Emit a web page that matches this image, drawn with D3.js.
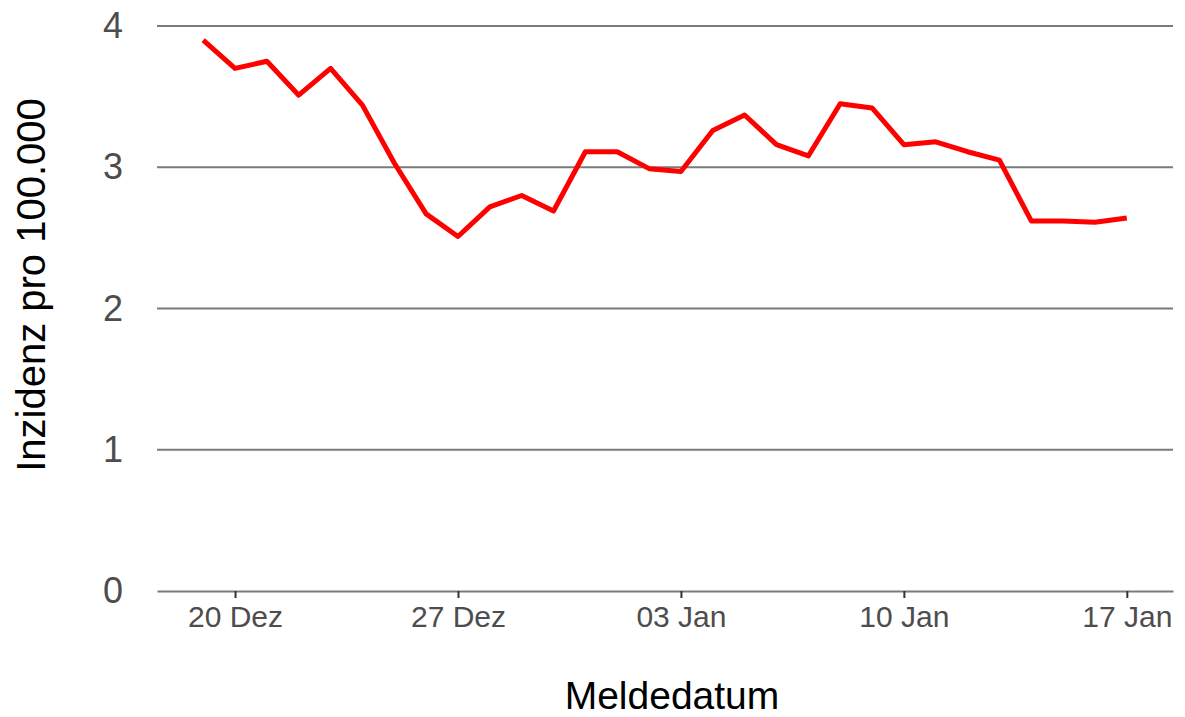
<!DOCTYPE html>
<html>
<head>
<meta charset="utf-8">
<script src="https://cdn.jsdelivr.net/npm/d3@7"></script>
<style>
  html, body { margin: 0; padding: 0; background: #ffffff; }
  svg { display: block; }
</style>
</head>
<body>
<svg id="chart" width="1185" height="717"></svg>
<script>
// ---- data ----
const dates = [
  "2020-12-19","2020-12-20","2020-12-21","2020-12-22","2020-12-23","2020-12-24",
  "2020-12-25","2020-12-26","2020-12-27","2020-12-28","2020-12-29","2020-12-30",
  "2020-12-31","2021-01-01","2021-01-02","2021-01-03","2021-01-04","2021-01-05",
  "2021-01-06","2021-01-07","2021-01-08","2021-01-09","2021-01-10","2021-01-11",
  "2021-01-12","2021-01-13","2021-01-14","2021-01-15","2021-01-16","2021-01-17"
];
const incidence = [
  3.90, 3.70, 3.75, 3.51, 3.70, 3.44,
  3.03, 2.67, 2.51, 2.72, 2.80, 2.69,
  3.11, 3.11, 2.99, 2.97, 3.26, 3.37,
  3.16, 3.08, 3.45, 3.42, 3.16, 3.18,
  3.11, 3.05, 2.62, 2.62, 2.61, 2.64
];
const xTickDates = ["2020-12-20","2020-12-27","2021-01-03","2021-01-10","2021-01-17"];
const yTicks = [0, 1, 2, 3, 4];
const xTitle = "Meldedatum";
const yTitle = "Inzidenz pro 100.000";

// ---- setup ----
const parse = d3.timeParse("%Y-%m-%d");
const data = dates.map((d, i) => ({ date: parse(d), value: incidence[i] }));

const deLocale = d3.timeFormatLocale({
  dateTime: "%A, der %e. %B %Y, %X",
  date: "%d.%m.%Y",
  time: "%H:%M:%S",
  periods: ["AM", "PM"],
  days: ["Sonntag","Montag","Dienstag","Mittwoch","Donnerstag","Freitag","Samstag"],
  shortDays: ["So","Mo","Di","Mi","Do","Fr","Sa"],
  months: ["Januar","Februar","März","April","Mai","Juni","Juli","August","September","Oktober","November","Dezember"],
  shortMonths: ["Jan","Feb","Mär","Apr","Mai","Jun","Jul","Aug","Sep","Okt","Nov","Dez"]
});
const fmt = deLocale.format("%d %b");

const svg = d3.select("#chart");
const panelLeft = 157, panelRight = 1173, panelTop = 26, panelBottom = 591;

const [dMin, dMax] = d3.extent(data, d => d.date);
const span = dMax - dMin;
const x = d3.scaleTime()
  .domain([new Date(+dMin - span * 0.05), new Date(+dMax + span * 0.05)])
  .range([panelLeft, panelRight]);
const y = d3.scaleLinear().domain([0, 4]).range([panelBottom, panelTop]);

const gridColor = "#7b7b7b";
const tickTextColor = "#4d4d4d";
const fontFamily = "'Liberation Sans', Arial, sans-serif";

// grid lines
svg.append("g")
  .selectAll("line")
  .data(yTicks.filter(t => t > 0))
  .join("line")
  .attr("x1", panelLeft).attr("x2", panelRight)
  .attr("y1", d => y(d)).attr("y2", d => y(d))
  .attr("stroke", gridColor).attr("stroke-width", 2);

// x axis
const xAxis = svg.append("g")
  .attr("transform", `translate(0,${panelBottom})`)
  .call(d3.axisBottom(x)
    .tickValues(xTickDates.map(parse))
    .tickFormat(fmt)
    .tickSize(7)
    .tickSizeOuter(0)
    .tickPadding(8));
xAxis.select(".domain").attr("stroke", gridColor).attr("stroke-width", 2);
xAxis.selectAll(".tick line").attr("stroke", "#333333").attr("stroke-width", 2);
xAxis.selectAll(".tick text")
  .attr("fill", tickTextColor)
  .style("font-family", fontFamily)
  .style("font-size", "30px");

// y axis labels
const yAxis = svg.append("g")
  .attr("transform", `translate(${panelLeft},0)`)
  .call(d3.axisLeft(y).tickValues(yTicks).tickFormat(d3.format("d")).tickSize(0).tickPadding(34));
yAxis.select(".domain").remove();
yAxis.selectAll(".tick text")
  .attr("fill", tickTextColor)
  .style("font-family", fontFamily)
  .style("font-size", "36px");

// line
const line = d3.line().x(d => x(d.date)).y(d => y(d.value));
svg.append("path")
  .datum(data)
  .attr("d", line)
  .attr("fill", "none")
  .attr("stroke", "#ff0000")
  .attr("stroke-width", 5)
  .attr("stroke-linejoin", "round");

// titles
svg.append("text")
  .attr("x", 672)
  .attr("y", 709)
  .attr("text-anchor", "middle")
  .attr("fill", "#000000")
  .style("font-family", fontFamily)
  .style("font-size", "39px")
  .text(xTitle);

svg.append("text")
  .attr("transform", `translate(45,285) rotate(-90)`)
  .attr("text-anchor", "middle")
  .attr("fill", "#000000")
  .style("font-family", fontFamily)
  .style("font-size", "40px")
  .text(yTitle);
</script>
</body>
</html>
